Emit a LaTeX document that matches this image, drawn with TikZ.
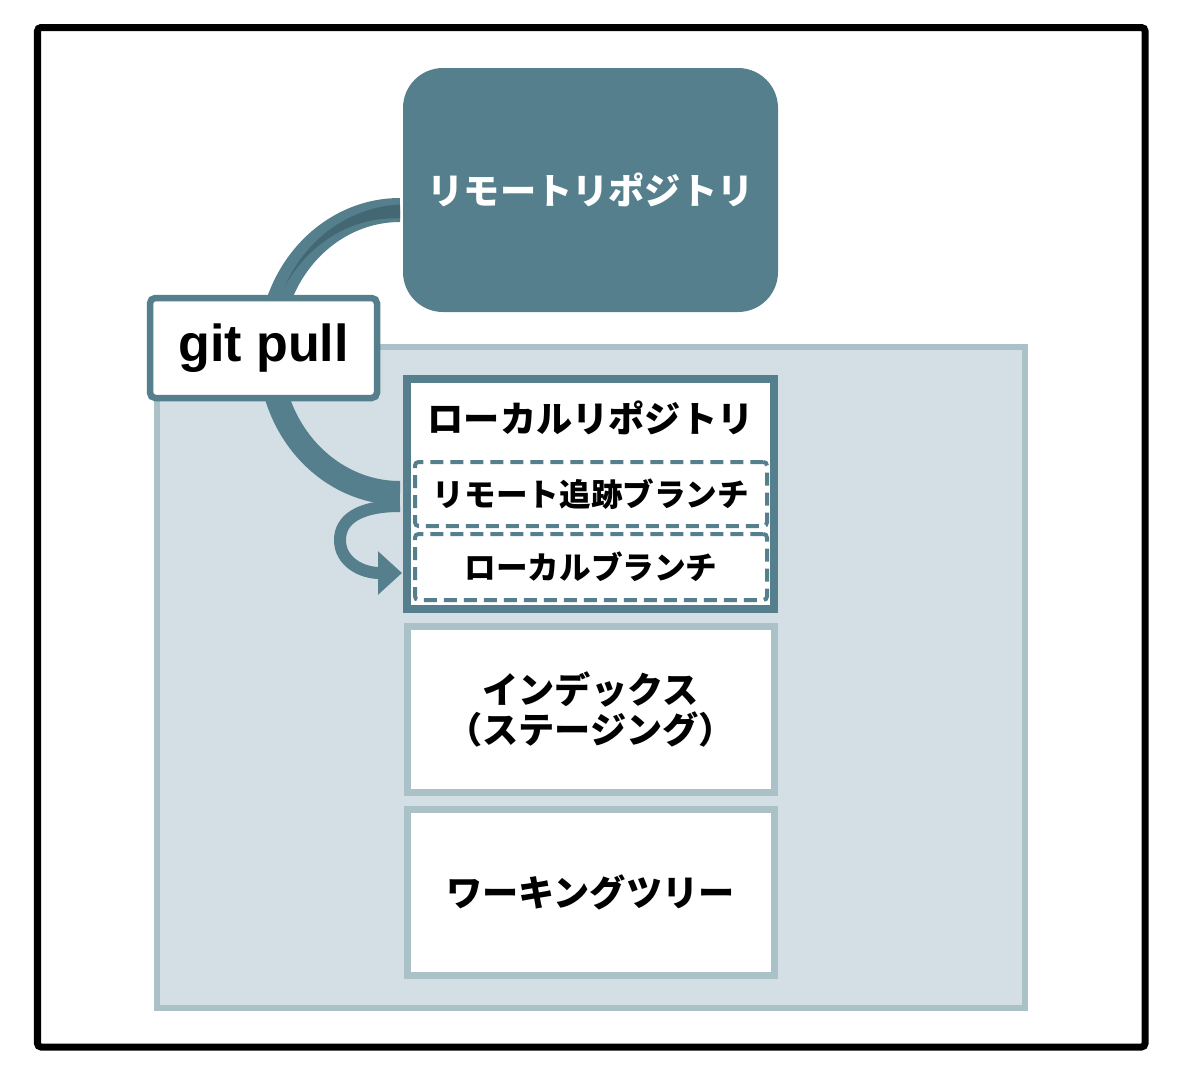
\documentclass[tikz,border=0pt]{standalone}
\usepackage{fontspec}
\setsansfont{Liberation Sans}
\newfontfamily\jp{Noto Sans CJK JP}
\usetikzlibrary{arrows.meta, positioning, calc}

\definecolor{pullteal}{HTML}{557F8C}
\definecolor{pulldark}{HTML}{436874}
\definecolor{areafill}{HTML}{D3DFE4}
\definecolor{arealine}{HTML}{A9C1C7}

\begin{document}
\begin{tikzpicture}[
    jpbig/.style={font=\jp\bfseries\fontsize{10.3}{11.4}\selectfont},
    jpsmall/.style={font=\jp\bfseries\fontsize{9}{11}\selectfont},
    stagebox/.style={draw=arealine, line width=0.07cm, fill=white, outer sep=0pt,
                     minimum width=3.67cm, minimum height=1.66cm, align=center, jpbig},
    branchbox/.style={draw=pullteal, line width=0.04cm, dash pattern=on 0.13cm off 0.07cm,
                      rounded corners=1pt, fill=white, outer sep=0pt,
                      minimum width=3.52cm, jpsmall}
  ]
  \useasboundingbox (0,0) rectangle (11.86,-10.82);

  % outer frame and the local side
  \draw[line width=0.07cm, rounded corners=1pt] (0.375,-0.275) rectangle (11.45,-10.47);
  \node[draw=arealine, fill=areafill, line width=0.06cm, outer sep=0pt,
        minimum width=8.68cm, minimum height=6.61cm, anchor=north west] (area) at (1.57,-3.47) {};

  % repositories
  \node[fill=pullteal, rounded corners=0.4cm, minimum width=3.75cm, minimum height=2.44cm,
        text=white, jpbig] (remote) at (5.905,-1.90) {リモートリポジトリ};
  \node[draw=pullteal, line width=0.075cm, fill=white, outer sep=0pt,
        minimum width=3.67cm, minimum height=2.30cm] (local) at (5.905,-4.94) {};
  \node[jpbig] (localtitle) at (5.905,-4.18) {ローカルリポジトリ};
  \node[branchbox, minimum height=0.64cm] (tracking) at (5.91,-4.94) {リモート追跡ブランチ};
  \node[branchbox, minimum height=0.66cm] (branch) at (5.91,-5.67) {ローカルブランチ};

  \node[stagebox] (index) at (5.905,-7.09) {インデックス\\（ステージング）};
  \node[stagebox] (worktree) at (5.905,-8.92) {ワーキングツリー};

  % pull arrow
  \coordinate (pullfrom) at (4.00,-2.10);
  \coordinate (curlfrom) at (4.00,-5.06);
  \coordinate (curlto) at (4.02,-5.73);
  \draw[pullteal, line width=0.24cm] (pullfrom)
    arc[start angle=90, end angle=270, x radius=1.30cm, y radius=1.415cm] coordinate (pullto);
  \fill[pulldark]
    plot[domain=90:152, samples=30] ({4.00+(1.30+0.07*(152-\x)/62)*cos(\x)}, {-3.515+(1.40+0.07*(152-\x)/62)*sin(\x)})
    -- plot[domain=152:90, samples=30] ({4.00+(1.30-0.07*(152-\x)/62)*cos(\x)}, {-3.515+(1.40-0.07*(152-\x)/62)*sin(\x)})
    -- cycle;
  \draw[pullteal, line width=0.12cm, -{Triangle[length=0.24cm, width=0.42cm]}] (curlfrom)
    .. controls (3.58,-5.06) and (3.40,-5.20) .. (3.40,-5.40)
    .. controls (3.40,-5.62) and (3.62,-5.73) .. (curlto);

  \node[draw=pullteal, line width=0.065cm, fill=white, rounded corners=1.5pt,
        minimum width=2.27cm, minimum height=1.00cm,
        font=\sffamily\bfseries\fontsize{14.8}{16}\selectfont] (pull) at (2.635,-3.48) {git pull};
\end{tikzpicture}
\end{document}
